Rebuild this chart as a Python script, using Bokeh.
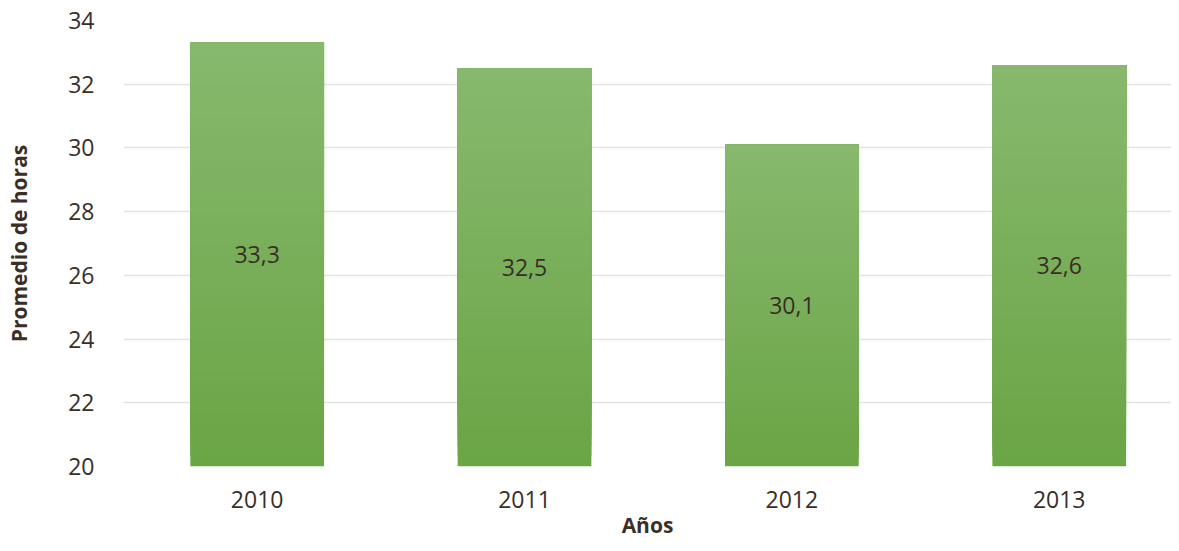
import numpy as np
from bokeh.plotting import figure
from bokeh.models import ColumnDataSource, Range1d, FixedTicker, LabelSet
from bokeh.core.properties import value
from bokeh.embed import file_html
from bokeh.resources import INLINE

years = ["2010", "2011", "2012", "2013"]
hours = [33.3, 32.5, 30.1, 32.6]
labels = ["33,3", "32,5", "30,1", "32,6"]
y_ticks = [20, 22, 24, 26, 28, 30, 32, 34]
base = 20

TEXT = "#3a2e27"
FONT = "Open Sans"

x_pos = [i + 0.5 for i in range(len(years))]

p = figure(width=1171, height=543, output_backend="svg", toolbar_location=None,
           x_range=Range1d(0, 3.92), y_range=Range1d(20, 34),
           min_border_left=123, min_border_right=0, min_border_top=20, min_border_bottom=77)
p.outline_line_color = None
p.background_fill_color = "white"

# gradient bars: per-bar vertical gradient from dark (bottom) to light (top)
N = 40
c_bot = np.array([0x6a, 0xa5, 0x46])
c_top = np.array([0x88, 0xb9, 0x6e])
for k in range(N):
    f = k / N
    c = c_bot + (c_top - c_bot) * f
    col = "#%02x%02x%02x" % tuple(int(round(v)) for v in c)
    bottoms = [base + f * (h - base) for h in hours]
    src = ColumnDataSource(dict(x=x_pos, top=hours, bottom=bottoms))
    p.vbar(x="x", top="top", bottom="bottom", width=0.5, source=src,
           fill_color=col, line_color=None)

lab_src = ColumnDataSource(dict(x=x_pos, y=[(base + h) / 2 for h in hours], t=labels))
p.add_layout(LabelSet(x="x", y="y", text="t", source=lab_src, text_align="center",
                      text_baseline="middle", text_font=value(FONT), text_font_size="23px",
                      text_color=TEXT))

p.xaxis.ticker = FixedTicker(ticks=x_pos)
p.xaxis.major_label_overrides = {x: y for x, y in zip(x_pos, years)}
p.yaxis.ticker = FixedTicker(ticks=y_ticks)
p.xgrid.grid_line_color = None
p.ygrid.grid_line_color = "#e2e2e2"
p.ygrid.grid_line_width = 1.5

for ax in (p.xaxis, p.yaxis):
    ax.axis_line_color = None
    ax.major_tick_line_color = None
    ax.minor_tick_line_color = None
    ax.major_label_text_font = FONT
    ax.major_label_text_font_size = "23px"
    ax.major_label_text_color = TEXT
    ax.axis_label_text_font = FONT
    ax.axis_label_text_font_size = "21px"
    ax.axis_label_text_font_style = "bold"
    ax.axis_label_text_color = TEXT

p.xaxis.axis_label = "Años"
p.yaxis.axis_label = "Promedio de horas"
p.xaxis.major_label_standoff = 18
p.xaxis.axis_label_standoff = 0
p.yaxis.major_label_standoff = 23
p.yaxis.axis_label_standoff = 32

open("out.html", "w").write(file_html(p, INLINE))
